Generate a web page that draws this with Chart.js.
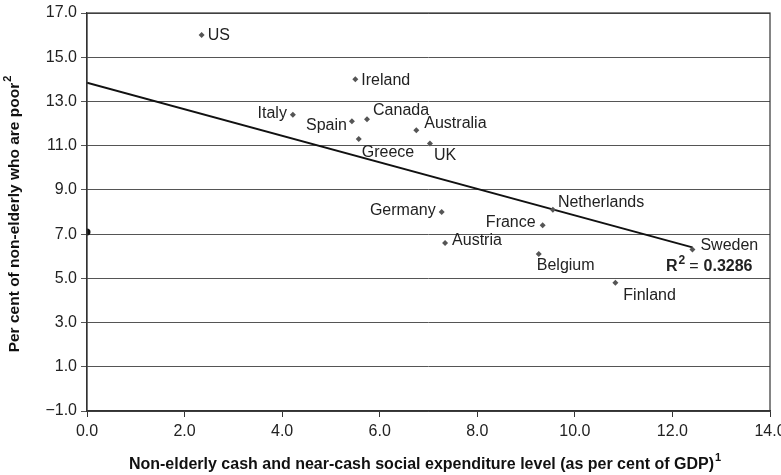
<!DOCTYPE html>
<html><head><meta charset="utf-8">
<script src="https://cdn.jsdelivr.net/npm/chart.js@4/dist/chart.umd.min.js"></script>
<style>html,body{margin:0;padding:0;background:#fff}#wrap{width:781px;height:475px}</style>
</head><body><div id="wrap"><canvas id="c"></canvas></div>
<script>
const countries = ['US','Ireland','Italy','Spain','Canada','Australia','Greece','UK','Germany','Austria','Netherlands','France','Belgium','Finland','Sweden'];
const expenditure = [2.35,5.5,4.22,5.43,5.74,6.75,5.57,7.03,7.27,7.34,9.55,9.34,9.26,10.83,12.41];
const poverty = [16.0,14.0,12.4,12.1,12.2,11.7,11.3,11.1,8.0,6.6,8.1,7.4,6.1,4.8,6.3];
const originPoint = [{x:0, y:7.1}];
const trendX = [0, 12.41];
const trendY = [13.85, 6.4];
const rSquared = '0.3286';
const xTicks = [0,2,4,6,8,10,12,14];
const yTicks = [-1,1,3,5,7,9,11,13,15,17];
const xTitle = 'Non-elderly cash and near-cash social expenditure level (as per cent of GDP)';
const xTitleSup = '1';
const yTitle = 'Per cent of non-elderly who are poor';
const yTitleSup = '2';

// label placement (style only): [dx, dy, align]
const labelPlace = [[6,0,'left'],[6,1,'left'],[-6,-1,'right'],[-5,4,'right'],[6,-9,'left'],[8,-7,'left'],[3,14,'left'],[4,12,'left'],[-6,-1,'right'],[7,-2,'left'],[5,-7,'left'],[-7,-3,'right'],[-2,12,'left'],[8,13,'left'],[8,-4,'left']];

const FONT = '"Liberation Sans", Arial, Helvetica, sans-serif';
const points = countries.map((c,i)=>({x:expenditure[i], y:poverty[i]}));
const trend = trendX.map((x,i)=>({x:x, y:trendY[i]}));

function drawSupTitle(ctx, main, sup, cx, cy, size){
  ctx.font = 'bold ' + size + 'px ' + FONT;
  const w1 = ctx.measureText(main).width;
  ctx.font = 'bold 11px ' + FONT;
  const w2 = ctx.measureText(sup).width;
  const start = cx - (w1 + 1 + w2)/2;
  ctx.textAlign = 'left'; ctx.textBaseline = 'middle';
  ctx.font = 'bold ' + size + 'px ' + FONT;
  ctx.fillText(main, start, cy);
  ctx.font = 'bold 11px ' + FONT;
  ctx.fillText(sup, start + w1 + 1, cy - 7);
}

const overlay = {
  id:'overlay',
  afterDatasetsDraw(chart){
    const ctx = chart.ctx, a = chart.chartArea, xs = chart.scales.x, ys = chart.scales.y;
    ctx.save();
    ctx.strokeStyle = '#333'; ctx.lineWidth = 1.2;
    ctx.strokeRect(a.left, a.top, a.right-a.left, a.bottom-a.top);
    ctx.fillStyle = '#222';
    ctx.font = '16px ' + FONT;
    ctx.textBaseline = 'middle';
    countries.forEach((c,i)=>{
      const px = xs.getPixelForValue(expenditure[i]), py = ys.getPixelForValue(poverty[i]);
      const p = labelPlace[i];
      ctx.textAlign = p[2];
      ctx.fillText(c, px+p[0], py+p[1]);
    });
    // R^2 annotation
    ctx.textAlign = 'left'; ctx.textBaseline = 'alphabetic';
    let x = 666, y = 271;
    ctx.font = 'bold 16px ' + FONT; ctx.fillText('R', x, y); x += ctx.measureText('R').width + 1;
    ctx.font = 'bold 12px ' + FONT; ctx.fillText('2', x, y-7); x += ctx.measureText('2').width + 4;
    ctx.font = '16px ' + FONT; ctx.fillText('=', x, y); x += ctx.measureText('=').width + 5;
    ctx.font = 'bold 16px ' + FONT; ctx.fillText(rSquared, x, y);
    // axis titles
    ctx.fillStyle = '#111';
    drawSupTitle(ctx, xTitle, xTitleSup, 425, 465, 16);
    ctx.save();
    ctx.translate(15, (a.top + a.bottom)/2 + 2);
    ctx.rotate(-Math.PI/2);
    drawSupTitle(ctx, yTitle, yTitleSup, 0, 0, 15.5);
    ctx.restore();
    ctx.restore();
  }
};

new Chart(document.getElementById('c'), {
  type:'scatter',
  data:{datasets:[
    {data:trend, type:'line', showLine:true, borderColor:'#111', borderWidth:2, pointRadius:0, fill:false, order:2},
    {data:points, pointStyle:'rectRot', pointRadius:3, backgroundColor:'#555', borderColor:'#555', borderWidth:0, order:1},
    {data:originPoint, pointStyle:'circle', pointRadius:3.5, backgroundColor:'#111', borderColor:'#111', borderWidth:0, order:1}
  ]},
  options:{
    responsive:true, maintainAspectRatio:false, animation:false,
    layout:{padding:{left:0, right:11, top:13, bottom:0}},
    plugins:{legend:{display:false}, tooltip:{enabled:false}},
    scales:{
      x:{type:'linear', min:0, max:14,
        afterBuildTicks(s){ s.ticks = xTicks.map(v=>({value:v})); },
        afterFit(s){ s.height = 64; s.paddingLeft = 0; s.paddingRight = 0; },
        ticks:{callback:v=>v.toFixed(1), color:'#222', font:{family:FONT, size:16}, padding:5, maxRotation:0},
        grid:{drawOnChartArea:false, drawTicks:true, tickLength:6, color:'#333'},
        border:{color:'#333', width:1.2},
        title:{display:false}
      },
      y:{type:'linear', min:-1, max:17,
        afterBuildTicks(s){ s.ticks = yTicks.map(v=>({value:v})); },
        afterFit(s){ s.width = 87; s.paddingTop = 0; s.paddingBottom = 0; },
        ticks:{callback:v=>(v<0?'\u2212'+Math.abs(v).toFixed(1):v.toFixed(1)), color:'#222', font:{family:FONT, size:16}, padding:4},
        grid:{drawOnChartArea:true, drawTicks:true, tickLength:6, color:'#555', lineWidth:1},
        border:{color:'#333', width:1.2},
        title:{display:false}
      }
    }
  },
  plugins:[overlay]
});
</script></body></html>
